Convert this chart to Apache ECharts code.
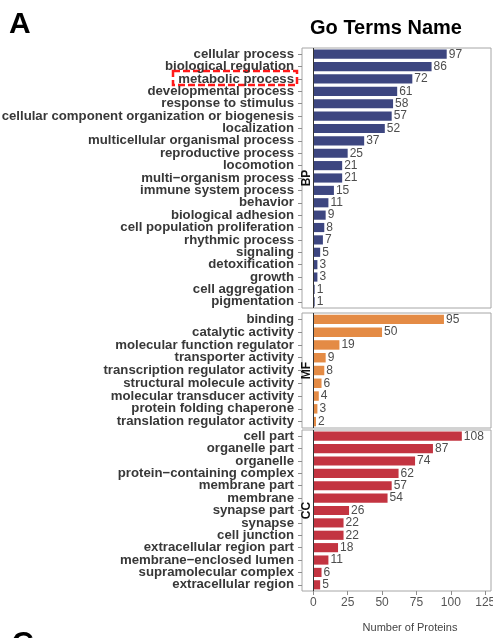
<!DOCTYPE html>
<html>
<head>
<meta charset="utf-8">
<script src="https://cdn.jsdelivr.net/npm/echarts@6/dist/echarts.min.js"></script>
<style>
html,body{margin:0;padding:0;background:#fff;}
#chart{width:493px;height:638px;}
</style>
</head>
<body>
<div id="chart"></div>
<script>
const bpCategories = ['cellular process','biological regulation','metabolic process','developmental process','response to stimulus','cellular component organization or biogenesis','localization','multicellular organismal process','reproductive process','locomotion','multi\u2212organism process','immune system process','behavior','biological adhesion','cell population proliferation','rhythmic process','signaling','detoxification','growth','cell aggregation','pigmentation'];
const bpValues = [97,86,72,61,58,57,52,37,25,21,21,15,11,9,8,7,5,3,3,1,1];

const mfCategories = ['binding','catalytic activity','molecular function regulator','transporter activity','transcription regulator activity','structural molecule activity','molecular transducer activity','protein folding chaperone','translation regulator activity'];
const mfValues = [95,50,19,9,8,6,4,3,2];

const ccCategories = ['cell part','organelle part','organelle','protein\u2212containing complex','membrane part','membrane','synapse part','synapse','cell junction','extracellular region part','membrane\u2212enclosed lumen','supramolecular complex','extracellular region'];
const ccValues = [108,87,74,62,57,54,26,22,22,18,11,6,5];

const panelNames = ['BP','MF','CC'];
const xTicks = [0,25,50,75,100,125];

const FONT = '"Liberation Sans", Arial, Helvetica, sans-serif';
const panels = [
  {cats: bpCategories, vals: bpValues, color: '#3d4680', top: 48, height: 260},
  {cats: mfCategories, vals: mfValues, color: '#e48b45', top: 313, height: 115},
  {cats: ccCategories, vals: ccValues, color: '#c33441', top: 430, height: 161}
];
const gridLeft = 302, gridWidth = 189;

const grids = [], xAxes = [], yAxes = [], series = [], graphics = [];
panels.forEach((p, i) => {
  const last = i === panels.length - 1;
  grids.push({left: gridLeft, top: p.top, width: gridWidth, height: p.height, show: true, borderColor: '#a6a6a6', borderWidth: 1, backgroundColor: '#fff', containLabel: false, outerBoundsMode: 'none'});
  xAxes.push({
    type: 'value', gridIndex: i, min: -8.2, max: 129.2,
    splitLine: {show: false},
    axisLine: {show: false, onZero: false},
    axisTick: {show: last, customValues: xTicks, length: 4, lineStyle: {color: '#8c8c8c'}},
    axisLabel: {show: last, customValues: xTicks, color: '#555', fontSize: 12, fontFamily: FONT, margin: 6}
  });
  yAxes.push({
    type: 'category', gridIndex: i, data: p.cats, inverse: true,
    axisLine: {show: false, onZero: false},
    axisTick: {show: true, length: 4, alignWithLabel: true, lineStyle: {color: '#8c8c8c'}},
    axisLabel: {interval: 0, color: '#383838', fontWeight: 'bold', fontSize: 13.2, fontFamily: FONT, margin: 8}
  });
  series.push({
    type: 'bar', xAxisIndex: i, yAxisIndex: i, data: p.vals, barWidth: '74%',
    itemStyle: {color: p.color},
    label: {show: true, position: 'right', distance: 2, color: '#4d4d4d', fontSize: 12, fontFamily: FONT},
    markLine: {silent: true, symbol: 'none', label: {show: false}, lineStyle: {color: '#333', width: 1, type: 'solid'}, data: [{xAxis: 0}], animation: false}
  });
  graphics.push({
    type: 'text', x: 307, y: p.top + p.height / 2, rotation: Math.PI / 2,
    style: {text: panelNames[i], font: 'bold 12px ' + FONT, fill: '#111', align: 'center', verticalAlign: 'middle'}
  });
});

graphics.push(
  {type: 'text', left: 9, top: 10, style: {text: 'A', font: 'bold 30px ' + FONT, fill: '#000'}},
  {type: 'text', left: 12, top: 629, style: {text: 'C', font: 'bold 30px ' + FONT, fill: '#000'}},
  {type: 'text', x: 386, y: 28, style: {text: 'Go Terms Name', font: 'bold 20px ' + FONT, fill: '#000', align: 'center', verticalAlign: 'middle'}},
  {type: 'text', x: 410, y: 628, style: {text: 'Number of Proteins', font: '11px ' + FONT, fill: '#444', align: 'center', verticalAlign: 'middle'}},
  {type: 'rect', shape: {x: 173, y: 71, width: 124, height: 14}, style: {fill: 'none', stroke: '#ff1a1a', lineWidth: 2.5, lineDash: [7, 3]}}
);

const chart = echarts.init(document.getElementById('chart'), null, {renderer: 'canvas'});
chart.setOption({
  animation: false,
  backgroundColor: '#fff',
  grid: grids,
  xAxis: xAxes,
  yAxis: yAxes,
  series: series,
  graphic: graphics
});
</script>
</body>
</html>
